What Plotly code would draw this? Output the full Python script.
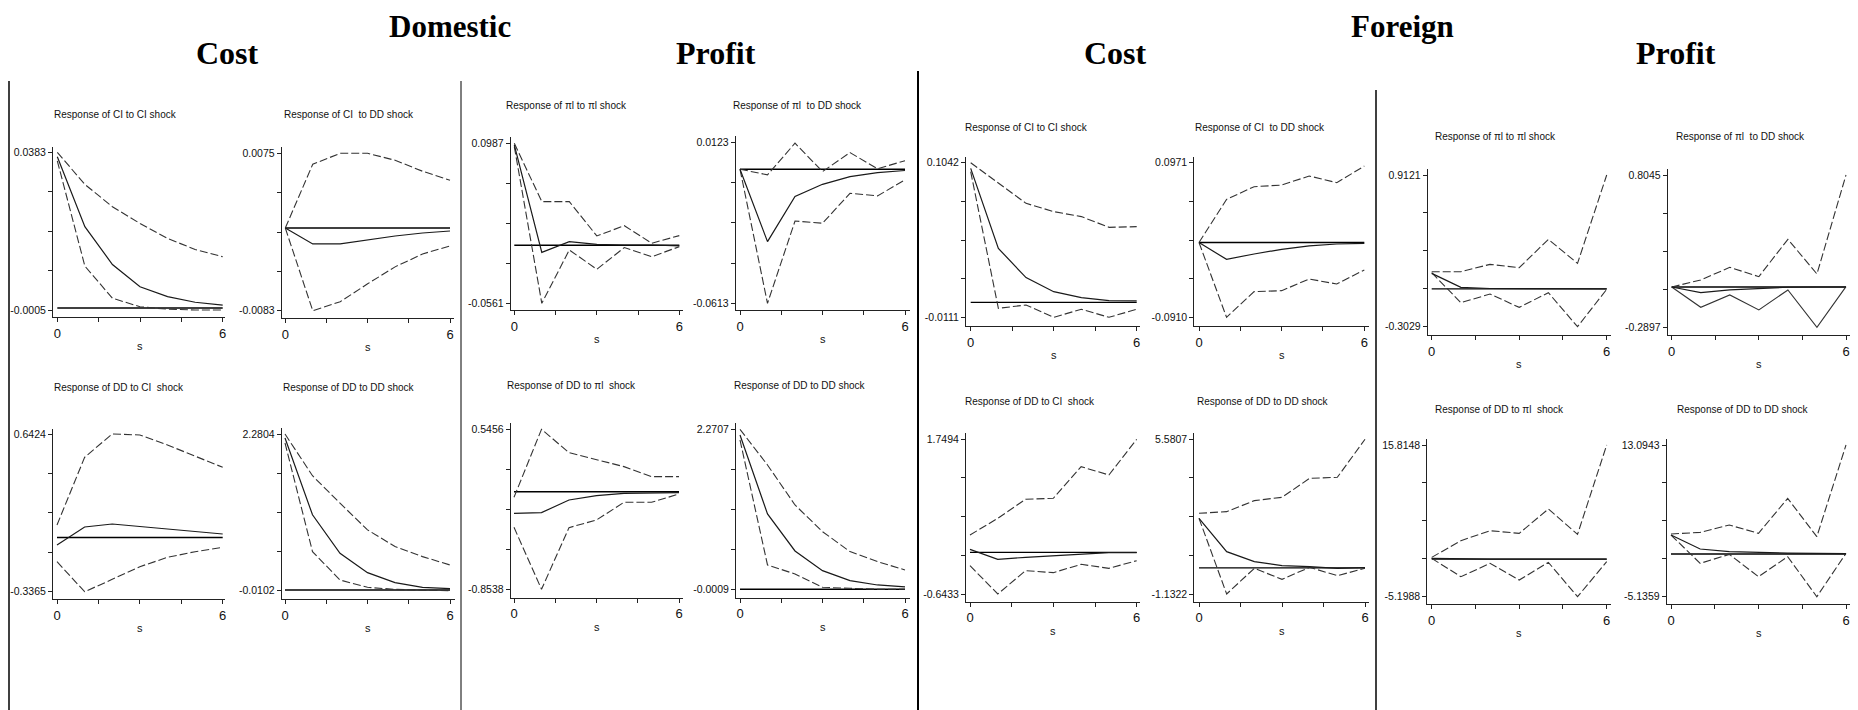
import plotly.graph_objects as go

# page body has an 8px margin, so the figure is drawn 8px smaller and offset
OFF = 8
W, H = 1858 - OFF, 710 - OFF

# ---------------- data ----------------
steps = [0, 1, 2, 3, 4, 5, 6]

# Domestic / Cost
a1_up = [0.0383, 0.0304, 0.0249, 0.0208, 0.0171, 0.0144, 0.0126]
a1_irf = [0.0372, 0.0200, 0.0107, 0.0052, 0.0028, 0.0014, 0.0007]
a1_lo = [0.0362, 0.0103, 0.0024, 0.0003, -0.0003, -0.0005, -0.0005]

a2_up = [0.0, 0.0064, 0.0075, 0.0075, 0.0068, 0.0057, 0.0048]
a2_irf = [0.0, -0.0016, -0.0016, -0.0012, -0.0008, -0.0005, -0.0003]
a2_lo = [0.0, -0.0083, -0.0074, -0.0056, -0.0039, -0.0026, -0.0018]

a3_up = [0.0775, 0.4977, 0.6424, 0.6364, 0.5743, 0.5060, 0.4356]
a3_irf = [-0.0467, 0.0651, 0.0837, 0.0672, 0.0506, 0.0361, 0.0216]
a3_lo = [-0.1502, -0.3365, -0.2599, -0.1812, -0.1233, -0.0881, -0.0612]

a4_up = [2.2804, 1.670, 1.269, 0.879, 0.635, 0.488, 0.366]
a4_irf = [2.222, 1.099, 0.537, 0.254, 0.107, 0.039, 0.019]
a4_lo = [2.149, 0.561, 0.146, 0.039, 0.009, -0.001, -0.0102]

# Domestic / Profit
b1_up = [0.0987, 0.0423, 0.0423, 0.0091, 0.0190, 0.0020, 0.0094]
b1_irf = [0.0971, -0.0068, 0.0036, 0.0010, 0.0003, 0.0003, -0.0006]
b1_lo = [0.0955, -0.0561, -0.0045, -0.0232, -0.0022, -0.0110, -0.0013]

b2_up = [0.0, -0.0026, 0.0119, -0.0011, 0.0076, 0.0002, 0.0039]
b2_irf = [0.0, -0.0331, -0.0125, -0.0069, -0.0034, -0.0016, -0.0006]
b2_lo = [0.0, -0.0613, -0.0237, -0.0247, -0.0110, -0.0122, -0.0049]

b3_up = [-0.0491, 0.5456, 0.3415, 0.2774, 0.2191, 0.1316, 0.1316]
b3_irf = [-0.1891, -0.1833, -0.0725, -0.0346, -0.0142, -0.0083, -0.0083]
b3_lo = [-0.3115, -0.8538, -0.3145, -0.2474, -0.0929, -0.0929, -0.0200]

b4_up = [2.2707, 1.7643, 1.1964, 0.8178, 0.5339, 0.3919, 0.2736]
b4_irf = [2.1902, 1.0686, 0.5433, 0.2641, 0.1221, 0.0606, 0.0322]
b4_lo = [2.1193, 0.3446, 0.2168, 0.0275, 0.0133, -0.0009, -0.0009]

# Foreign / Cost
c1_up = [0.1042, 0.0888, 0.0739, 0.0677, 0.0640, 0.0560, 0.0565]
c1_irf = [0.1000, 0.0403, 0.0185, 0.0080, 0.0036, 0.0013, 0.0011]
c1_lo = [0.0975, -0.0044, -0.0019, -0.0111, -0.0051, -0.0111, -0.0051]

c2_up = [0.0, 0.0525, 0.0679, 0.0699, 0.0809, 0.0728, 0.0930]
c2_irf = [0.0, -0.0205, -0.0140, -0.0083, -0.0042, -0.0018, -0.0010]
c2_lo = [0.0, -0.0910, -0.0598, -0.0586, -0.0444, -0.0505, -0.0334]

c3_up = [0.2694, 0.5273, 0.8212, 0.8367, 1.3266, 1.1976, 1.7494]
c3_irf = [0.0477, -0.1070, -0.0761, -0.0503, -0.0245, -0.0039, -0.0020]
c3_lo = [-0.2050, -0.6433, -0.2823, -0.3133, -0.1844, -0.2462, -0.1276]

c4_up = [2.3691, 2.4414, 2.9188, 3.0635, 3.8882, 3.9316, 5.5807]
c4_irf = [2.152, 0.7052, 0.2712, 0.0976, 0.0542, -0.0182, 0.0108]
c4_lo = [2.152, -1.1322, -0.0182, -0.4956, 0.0252, -0.3365, -0.0182]

# Foreign / Profit
d1_up = [0.1377, 0.1377, 0.1964, 0.1697, 0.3967, 0.2045, 0.9121]
d1_irf = [0.1243, 0.0122, 0.0030, 0.0010, 0.0, 0.0, 0.0]
d1_lo = [0.1297, -0.1106, -0.0412, -0.1480, -0.0305, -0.3029, -0.0038]

d2_up = [0.0, 0.0503, 0.1413, 0.0742, 0.3424, 0.0934, 0.8045]
d2_irf = [0.0, -0.0407, -0.0215, -0.0096, -0.0018, 0.0, 0.0]
d2_lo = [0.0, -0.1460, -0.0575, -0.1652, -0.0215, -0.2897, 0.0024]

d3_up = [0.2509, 2.5601, 3.9456, 3.5762, 6.9476, 3.4376, 15.8148]
d3_irf = [0.1124, 0.0100, 0.0, 0.0, 0.0, 0.0, 0.0]
d3_lo = [0.1124, -2.4278, -0.5804, -2.8896, -0.4418, -5.1988, -0.3495]

d4_up = [2.3965, 2.5968, 3.4783, 2.4766, 6.6836, 2.0760, 13.0943]
d4_irf = [2.2763, 0.5935, 0.2730, 0.1528, 0.1000, 0.0800, 0.0500]
d4_lo = [2.2763, -1.1293, -0.0475, -2.7319, -0.3280, -5.1359, 0.0727]

titles = [
    "Response of CI to CI shock", "Response of CI\u00a0 to DD shock",
    "Response of DD to CI\u00a0 shock", "Response of DD to DD shock",
    "Response of \u03c0l to \u03c0l shock", "Response of \u03c0l\u00a0 to DD shock",
    "Response of DD to \u03c0l\u00a0 shock", "Response of DD to DD shock",
    "Response of CI to CI shock", "Response of CI\u00a0 to DD shock",
    "Response of DD to CI\u00a0 shock", "Response of DD to DD shock",
    "Response of \u03c0l to \u03c0l shock", "Response of \u03c0l\u00a0 to DD shock",
    "Response of DD to \u03c0l\u00a0 shock", "Response of DD to DD shock",
]
ytick_top = ["0.0383", "0.0075", "0.6424", "2.2804",
             "0.0987", "0.0123", "0.5456", "2.2707",
             "0.1042", "0.0971", "1.7494", "5.5807",
             "0.9121", "0.8045", "15.8148", "13.0943"]
ytick_bot = ["-0.0005", "-0.0083", "-0.3365", "-0.0102",
             "-0.0561", "-0.0613", "-0.8538", "-0.0009",
             "-0.0111", "-0.0910", "-0.6433", "-1.1322",
             "-0.3029", "-0.2897", "-5.1988", "-5.1359"]
xtick_text = ["0", "", "", "", "6"]
xtick_vals = [0, 1.5, 3, 4.5, 6]

series = [
    (a1_up, a1_irf, a1_lo), (a2_up, a2_irf, a2_lo), (a3_up, a3_irf, a3_lo), (a4_up, a4_irf, a4_lo),
    (b1_up, b1_irf, b1_lo), (b2_up, b2_irf, b2_lo), (b3_up, b3_irf, b3_lo), (b4_up, b4_irf, b4_lo),
    (c1_up, c1_irf, c1_lo), (c2_up, c2_irf, c2_lo), (c3_up, c3_irf, c3_lo), (c4_up, c4_irf, c4_lo),
    (d1_up, d1_irf, d1_lo), (d2_up, d2_irf, d2_lo), (d3_up, d3_irf, d3_lo), (d4_up, d4_irf, d4_lo),
]
# lower band drawn solid in the "πl to DD" foreign panel (as in the source)
lower_solid = [False] * 13 + [True, False, False]

headers_top = ["Domestic", "Foreign"]
headers_sub = ["Cost", "Profit", "Cost", "Profit"]

# ---------------- layout geometry (page pixels) ----------------
geom = [
    (53.0, 57.3, 222.7, 225, 147, 152.3, 310.0, 317.3),
    (281.7, 285.3, 450.0, 454, 147, 153.3, 310.7, 318.0),
    (53.0, 57.0, 222.7, 225, 429, 434.0, 591.7, 599.0),
    (281.7, 285.0, 450.0, 455, 428, 434.0, 590.7, 599.0),
    (510.7, 514.3, 679.3, 683, 137, 143.3, 303.3, 310.0),
    (735.7, 740.0, 905.0, 910, 136, 142.3, 303.3, 310.0),
    (510.7, 514.0, 679.0, 683, 423, 429.3, 589.3, 597.7),
    (736.0, 740.0, 905.0, 910, 423, 429.3, 589.3, 597.7),
    (966.0, 970.7, 1136.7, 1140, 157, 162.7, 317.3, 326.0),
    (1194.3, 1199.0, 1364.3, 1369, 157, 162.7, 317.3, 326.0),
    (966.0, 970.0, 1136.7, 1140, 433, 439.3, 594.0, 601.7),
    (1194.3, 1199.0, 1365.0, 1369, 433, 439.3, 594.0, 601.7),
    (1427.7, 1431.7, 1606.7, 1611, 169, 175.0, 326.7, 335.0),
    (1667.7, 1671.7, 1846.0, 1850, 169, 175.0, 327.3, 335.0),
    (1427.3, 1431.7, 1606.7, 1611, 439, 445.0, 596.7, 604.0),
    (1666.7, 1671.0, 1846.0, 1850, 439, 445.0, 596.7, 604.0),
]
title_pos = [
    (115, 115), (349, 115), (118.5, 387), (349, 387),
    (566.5, 105.5), (797, 105.5), (571.5, 385.5), (799.5, 385.5),
    (1026, 127), (1260, 127), (1029.5, 401.5), (1262.5, 401.5),
    (1495, 136.5), (1740.5, 136.5), (1499.5, 409), (1742.5, 409),
]


def px(x):
    return (x - OFF) / W


def py(y):
    return 1 - (y - OFF) / H


SANS = "Liberation Sans, Arial, sans-serif"
SERIF = "Liberation Serif, Times New Roman, serif"

fig = go.Figure()
layout = {}
annotations = []

for i, (g, (up, irf, lo)) in enumerate(zip(geom, series)):
    n = i + 1
    sfx = "" if n == 1 else str(n)
    left, x0p, x6p, right, top, ytp, ybp, bottom = g
    tv = float(ytick_top[i])
    bv = float(ytick_bot[i])
    k = (x6p - x0p) / 6.0
    xr = [-(x0p - left) / k, 6 + (right - x6p) / k]
    m = (ybp - ytp) / (tv - bv)
    yr = [bv - (bottom - ybp) / m, tv + (ytp - top) / m]

    xa, ya = "x" + sfx, "y" + sfx
    fig.add_trace(go.Scatter(x=[steps[0], steps[-1]], y=[0, 0], mode="lines",
                             line=dict(color="#000000", width=1.4),
                             xaxis=xa, yaxis=ya, showlegend=False, hoverinfo="skip"))
    fig.add_trace(go.Scatter(x=steps, y=up, mode="lines",
                             line=dict(color="#333333", width=1.1, dash="8px,3px"),
                             xaxis=xa, yaxis=ya, showlegend=False))
    fig.add_trace(go.Scatter(x=steps, y=lo, mode="lines",
                             line=dict(color="#333333", width=1.1,
                                       dash="solid" if lower_solid[i] else "8px,3px"),
                             xaxis=xa, yaxis=ya, showlegend=False))
    fig.add_trace(go.Scatter(x=steps, y=irf, mode="lines",
                             line=dict(color="#1a1a1a", width=1.2),
                             xaxis=xa, yaxis=ya, showlegend=False))

    ticks_y = [bv + (tv - bv) * j / 4 for j in range(5)]
    layout["xaxis" + sfx] = dict(
        domain=[px(left), px(right)], range=xr, anchor=ya,
        showline=True, linecolor="#222", linewidth=1, mirror=False,
        ticks="outside", ticklen=4, tickcolor="#222", tickwidth=1,
        tickvals=xtick_vals, ticktext=xtick_text,
        tickfont=dict(family=SANS, size=13, color="#111"),
        showgrid=False, zeroline=False, fixedrange=True)
    layout["yaxis" + sfx] = dict(
        domain=[py(bottom), py(top)], range=yr, anchor=xa,
        showline=True, linecolor="#222", linewidth=1, mirror=False,
        ticks="outside", ticklen=4, tickcolor="#222", tickwidth=1,
        tickvals=ticks_y, ticktext=[ytick_bot[i], "", "", "", ytick_top[i]],
        tickfont=dict(family=SANS, size=10.5, color="#111"),
        showgrid=False, zeroline=False, fixedrange=True)

    tx, ty = title_pos[i]
    annotations.append(dict(x=px(tx), y=py(ty), xref="paper", yref="paper",
                            text=titles[i], showarrow=False, xanchor="center", yanchor="middle",
                            font=dict(family=SANS, size=10, color="#111")))
    annotations.append(dict(x=px((x0p + x6p) / 2), y=py(bottom + 29),
                            xref="paper", yref="paper", text="s", showarrow=False,
                            xanchor="center", yanchor="middle",
                            font=dict(family=SANS, size=11, color="#111")))

for txt, cx in zip(headers_top, [450, 1402]):
    annotations.append(dict(x=px(cx), y=1.0, xref="paper", yref="paper",
                            text="<b>" + txt + "</b>", showarrow=False,
                            xanchor="center", yanchor="top", borderpad=0,
                            font=dict(family=SERIF, size=31, color="#000")))
for txt, cx in zip(headers_sub, [227.5, 716, 1115.6, 1676]):
    annotations.append(dict(x=px(cx), y=py(53), xref="paper", yref="paper",
                            text="<b>" + txt + "</b>", showarrow=False,
                            xanchor="center", yanchor="middle",
                            font=dict(family=SERIF, size=32, color="#000")))

shapes = []
for sx, sy, lw in [(9, 81, 1.5), (461, 81, 1), (918, 71, 2), (1376, 90, 1.5)]:
    shapes.append(dict(type="line", xref="paper", yref="paper",
                       x0=px(sx), x1=px(sx), y0=py(sy), y1=0,
                       line=dict(color="#000", width=lw)))

fig.update_layout(
    width=W, height=H,
    margin=dict(l=0, r=0, t=0, b=0),
    paper_bgcolor="white", plot_bgcolor="white",
    showlegend=False,
    annotations=annotations, shapes=shapes,
    **layout,
)

fig.write_html("out.html")
